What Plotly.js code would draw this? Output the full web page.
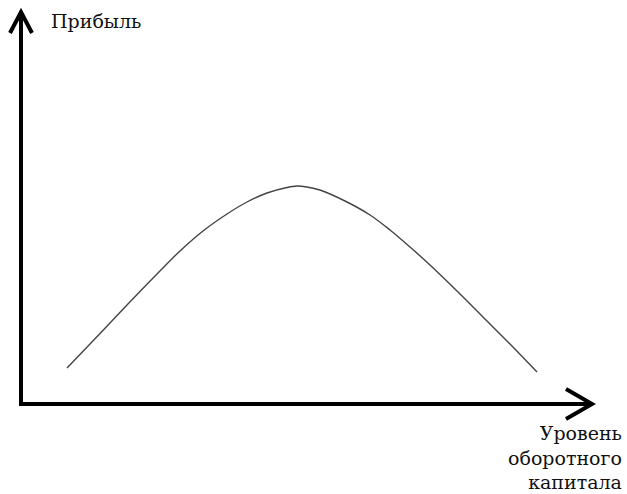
<!DOCTYPE html>
<html>
<head>
<meta charset="utf-8">
<script src="https://cdn.plot.ly/plotly-3.0.1.min.js"></script>
<style>
  html, body { margin: 0; padding: 0; background: #fff; }
  #plot-area { width: 627px; height: 494px; }
</style>
</head>
<body>
<div id="plot-area"></div>
<script>
// Values (origin = where the two axes meet)
var capitalLevel = [46, 69, 89, 106, 136, 159, 182, 206, 226, 246, 266, 276, 286, 299, 326, 349, 369, 389, 409, 436, 462, 489, 516];
var profit       = [36, 60, 81, 99, 130, 153, 173, 190, 202, 211, 216.5, 218, 217, 214, 202, 189, 174, 157, 139, 113, 87, 60, 32];

var yLabel = "Прибыль";
var xLabelLines = ["Уровень", "оборотного", "капитала"];

var FONT = "DejaVu Serif";

function DrawChart() {
    var data = [
        {
            x: capitalLevel,
            y: profit,
            mode: "lines",
            line: {color: "#444", width: 1.4, shape: "spline", smoothing: 1},
            hoverinfo: "skip",
            showlegend: false
        }
    ];

    // axes drawn as thick arrows
    var shapes = [
        {type: "line", x0: 0, y0: -2, x1: 0, y1: 391, line: {color: "#000", width: 4}},
        {type: "path", path: "M -11,371 L 0,392 L 11,371", line: {color: "#000", width: 4}},
        {type: "line", x0: -2, y0: 0, x1: 570, y1: 0, line: {color: "#000", width: 4}},
        {type: "path", path: "M 545,15 L 571,0 L 545,-15", line: {color: "#000", width: 4}}
    ];

    var annotations = [
        {
            text: yLabel, xref: "paper", yref: "paper",
            x: 49 / 627, y: 1 - 8 / 494, xanchor: "left", yanchor: "top",
            showarrow: false, font: {family: FONT, size: 19, color: "#111"}
        },
        {
            text: xLabelLines.join("<br>"), xref: "paper", yref: "paper",
            x: 624 / 627, y: 1 - 420 / 494, xanchor: "right", yanchor: "top", align: "right",
            showarrow: false, font: {family: FONT, size: 19, color: "#111"}
        }
    ];

    var layout = {
        width: 627, height: 494,
        margin: {l: 0, r: 0, t: 0, b: 0},
        paper_bgcolor: "#fff", plot_bgcolor: "#fff",
        font: {family: FONT},
        xaxis: {range: [-21, 606], visible: false, fixedrange: true},
        yaxis: {range: [-90, 404], visible: false, fixedrange: true},
        shapes: shapes,
        annotations: annotations,
        showlegend: false
    };

    Plotly.newPlot("plot-area", data, layout, {displayModeBar: false, staticPlot: true});
}

DrawChart();
</script>
</body>
</html>
